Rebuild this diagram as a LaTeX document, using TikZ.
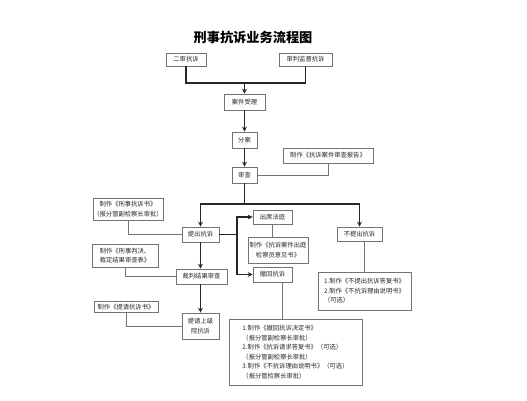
\documentclass[tikz,border=0pt]{standalone}
\usepackage{fontspec}
\setmainfont{Noto Sans CJK SC}
\usetikzlibrary{arrows.meta}
\usetikzlibrary{positioning}

\begin{document}
\begin{tikzpicture}[x=1pt,y=-1pt,
  box/.style={draw=black!55,line width=0.7pt,fill=white,inner sep=0pt,
    font=\fontsize{6.3}{9.5}\selectfont,text=black!85,align=center},
  flow/.style={black!85,line width=1.2pt},
  arr/.style={flow,-{Stealth[length=5pt,width=5pt]}},
  link/.style={black!55,line width=0.7pt}]
\useasboundingbox[fill=white] (0,0) rectangle (527,400);

\node[font=\fontsize{13.2}{14}\selectfont\bfseries] (title) at (253,37) {刑事抗诉业务流程图};

% main line
\node[box,minimum width=40pt,minimum height=13pt] (ershen) at (186,59.5) {二审抗诉};
\node[box,minimum width=53pt,minimum height=13pt] (shenpan) at (305.5,59.5) {审判监督抗诉};
\node[box,minimum width=41pt,minimum height=16pt] (shouli) at (244.5,102) {案件受理};
\node[box,minimum width=25pt,minimum height=16pt] (fenan) at (244.5,140) {分案};
\node[box,minimum width=90pt,minimum height=15pt] (baogao) at (328,155.5) {制作《抗诉案件审查报告》};
\node[box,minimum width=25pt,minimum height=16pt] (shencha) at (244.5,175) {审查};

% left branch
\node[box,minimum width=70pt,minimum height=22pt] (ksnote) at (128,209) {制作《刑事抗诉书》\\（报分管副检察长审批）};
\node[box,minimum width=37pt,minimum height=15pt] (tichu) at (200.5,234.5) {提出抗诉};
\node[box,minimum width=66pt,minimum height=23pt,align=left] (pjnote) at (125,255.5) {制作《刑事判决、\\裁定结果审查表》};
\node[box,minimum width=51pt,minimum height=15pt] (caipan) at (201.5,276.5) {裁判结果审查};
\node[box,minimum width=64pt,minimum height=11pt] (tqnote) at (126,307) {制作《提请抗诉书》};
\node[box,minimum width=37pt,minimum height=26pt] (shangji) at (200.5,326) {提请上级\\院抗诉};

% middle branch
\node[box,minimum width=39pt,minimum height=14pt] (chuxi) at (272.5,217) {出席法庭};
\node[box,minimum width=60pt,minimum height=26pt] (yjnote) at (278,250) {制作《抗诉案件出庭\\检察员意见书》};
\node[box,minimum width=39pt,minimum height=15pt] (chehui) at (272.5,274.5) {撤回抗诉};
\node[box,minimum width=133pt,minimum height=66pt,align=left] (chnote) at (295.5,352) {1.制作《撤回抗诉决定书》\\（报分管副检察长审批）\\2.制作《抗诉请求答复书》（可选）\\（报分管副检察长审批）\\3.制作《不抗诉理由说明书》（可选）\\（报分管检察长审批）};

% right branch
\node[box,minimum width=45pt,minimum height=14pt] (buti) at (359.5,234) {不提出抗诉};
\node[box,minimum width=93pt,minimum height=38pt,align=left] (btnote) at (364.5,291) {1.制作《不提出抗诉答复书》\\2.制作《不抗诉理由说明书》\\（可选）};

\coordinate (join1) at (244.5,83);
\coordinate (join2) at (244.5,204);
\coordinate (fork) at (237,234.5);

\draw[flow] (ershen) |- (join1) -| (shenpan);
\draw[arr] (join1) -- (shouli);
\draw[arr] (shouli) -- (fenan);
\draw[arr] (fenan) -- (shencha);
\draw[link] (shencha) -| (baogao);
\draw[flow] (shencha) -- (join2);
\draw[arr] (join2) -| (tichu);
\draw[arr] (join2) -| (buti);

\draw[link] (ksnote) |- (tichu);
\draw[arr] (tichu.south) -- (tichu.south |- caipan.north);
\draw[link] (pjnote) |- (caipan);
\draw[arr] (caipan.south -| tichu) -- (shangji.north -| tichu);
\draw[link] (tqnote) |- (shangji);

\draw[flow] (tichu) -- (fork);
\draw[arr] (fork) |- (chuxi);
\draw[arr] (fork) |- (chehui);
\draw[link] (chuxi) -- (yjnote.north -| chuxi);
\draw[link] ([xshift=9.5pt]chehui.south) -- ([xshift=9.5pt]chehui.south |- chnote.north);

\draw[link] ([xshift=4.5pt]buti.south) -- ([xshift=4.5pt]buti.south |- btnote.north);

\end{tikzpicture}
\end{document}
